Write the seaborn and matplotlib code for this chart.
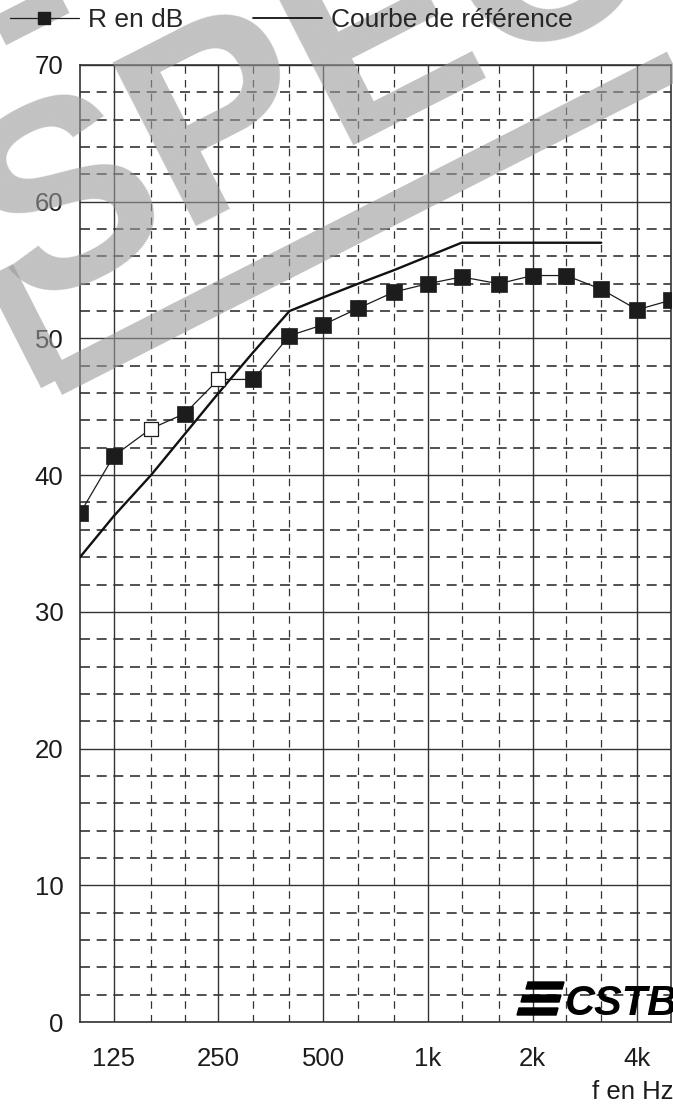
import matplotlib
matplotlib.use("Agg")
import numpy as np
import pandas as pd
import matplotlib.pyplot as plt
import seaborn as sns
from matplotlib.lines import Line2D
from matplotlib.patches import Rectangle, Polygon
from matplotlib.ticker import FixedLocator, FixedFormatter, NullFormatter
from matplotlib.transforms import IdentityTransform

# third-octave bands (Hz) and measured sound reduction index R (dB)
freqs = [100, 125, 160, 200, 250, 315, 400, 500, 630, 800,
         1000, 1250, 1600, 2000, 2500, 3150, 4000, 5000]
r_db = [37.2, 41.4, 43.4, 44.5, 47.0, 47.0, 50.2, 51.0, 52.2, 53.4,
        54.0, 54.5, 54.0, 54.6, 54.6, 53.6, 52.1, 52.8]
hollow_bands = [160, 250]

# shifted reference curve
ref_freqs = [100, 125, 160, 200, 250, 315, 400, 500, 630, 800,
             1000, 1250, 1600, 2000, 2500, 3150]
ref_db = [34, 37, 40, 43, 46, 49, 52, 53, 54, 55,
          56, 57, 57, 57, 57, 57]

octave_ticks = [125, 250, 500, 1000, 2000, 4000]
octave_labels = ["125", "250", "500", "1k", "2k", "4k"]
third_ticks = [160, 200, 315, 400, 630, 800, 1250, 1600, 2500, 3150]
y_major = [0, 10, 20, 30, 40, 50, 60, 70]
y_minor = [v for v in range(0, 71, 2) if v % 10]

sns.set_style("white")
plt.rcParams["font.family"] = ["Liberation Sans", "DejaVu Sans"]

INK = "#1c1c1c"
GRID = "#333333"
W, H = 673, 1106

df = pd.DataFrame({"f": freqs, "R": r_db})
df["hollow"] = df["f"].isin(hollow_bands)
ref = pd.DataFrame({"f": ref_freqs, "R": ref_db})

fig = plt.figure(figsize=(W / 100, H / 100), dpi=100)
ax = fig.add_axes([80 / W, 1 - 1022 / H, 591 / W, 957 / H])
ax.set_xscale("log")
ax.set_xlim(100, 5000)
ax.set_ylim(0, 70)

# grid: solid for octaves / tens, dashed for third octaves / 2 dB
ax.xaxis.set_major_locator(FixedLocator(octave_ticks))
ax.xaxis.set_major_formatter(FixedFormatter(octave_labels))
ax.xaxis.set_minor_locator(FixedLocator(third_ticks))
ax.xaxis.set_minor_formatter(NullFormatter())
ax.yaxis.set_major_locator(FixedLocator(y_major))
ax.yaxis.set_minor_locator(FixedLocator(y_minor))
ax.yaxis.set_minor_formatter(NullFormatter())
ax.set_axisbelow(True)
ax.grid(which="major", color=GRID, lw=1.0, ls="-")
ax.yaxis.grid(which="minor", color=GRID, lw=1.2, ls=(0, (6, 4)))
ax.xaxis.grid(which="minor", color=GRID, lw=0.9, ls=(0, (6, 5)))
ax.tick_params(which="both", length=0)
ax.tick_params(axis="y", pad=12, labelsize=18.5, colors=INK)
ax.tick_params(axis="x", pad=18, labelsize=18.5, colors=INK)
for s in ax.spines.values():
    s.set_visible(True)
    s.set_color(GRID)
    s.set_linewidth(1.2)

# curves
sns.lineplot(data=ref, x="f", y="R", ax=ax, color="#111111", lw=1.7, zorder=3)
sns.lineplot(data=df, x="f", y="R", ax=ax, color=INK, lw=0.9, zorder=4)
sns.scatterplot(data=df[~df["hollow"]], x="f", y="R", ax=ax, marker="s",
                s=135, color=INK, edgecolor=INK, linewidth=0.5, zorder=5)
sns.scatterplot(data=df[df["hollow"]], x="f", y="R", ax=ax, marker="s",
                s=100, facecolor="white", edgecolor=INK, linewidth=0.9, zorder=5)
ax.set_xlabel("")
ax.set_ylabel("")

# legend
handles = [
    Line2D([], [], color=INK, lw=0.9, marker="s", markersize=9,
           markerfacecolor=INK, markeredgecolor=INK),
    Line2D([], [], color="#111111", lw=1.3),
]
fig.legend(handles, ["R en dB", "Courbe de référence"], ncol=2,
           loc="center left", bbox_to_anchor=(10 / W, 1 - 20 / H),
           frameon=False, fontsize=19, borderpad=0, borderaxespad=0,
           handlelength=2.6, handletextpad=0.35, columnspacing=2.65)

fig.text(1.0, 1 - 1092 / H, "f en Hz", ha="right", va="center",
         fontsize=18.5, color=INK)

# SPECIMEN stamp (pixel coordinates, y up)
wm_color = "#9a9a9a"
wm_angle = 27
frame = Rectangle((55, H - 381), 1400, 337, angle=wm_angle, rotation_point="xy",
                  fill=False, edgecolor=wm_color, lw=22.5, alpha=0.6,
                  joinstyle="miter", transform=IdentityTransform())
fig.add_artist(frame)
fig.text(22 / W, 1 - 310 / H, "SPECIMEN", rotation=wm_angle, rotation_mode="anchor",
         ha="left", va="baseline", fontsize=191, fontweight="bold",
         color=wm_color, alpha=0.6)

# CSTB logo
bars = [(982, 526, 562), (995, 521, 559), (1008, 517, 556)]
for ytop, xl, xr in bars:
    yb = ytop + 7
    pts = [(xl, H - yb), (xr, H - yb), (xr + 2, H - ytop), (xl + 2, H - ytop)]
    fig.add_artist(Polygon(pts, closed=True, color="black",
                           transform=IdentityTransform()))
fig.text(565 / W, 1 - 1015 / H, "CSTB", ha="left", va="baseline",
         fontsize=30, fontweight="bold", fontstyle="italic", color="black")

fig.savefig("out.png", dpi=100)
